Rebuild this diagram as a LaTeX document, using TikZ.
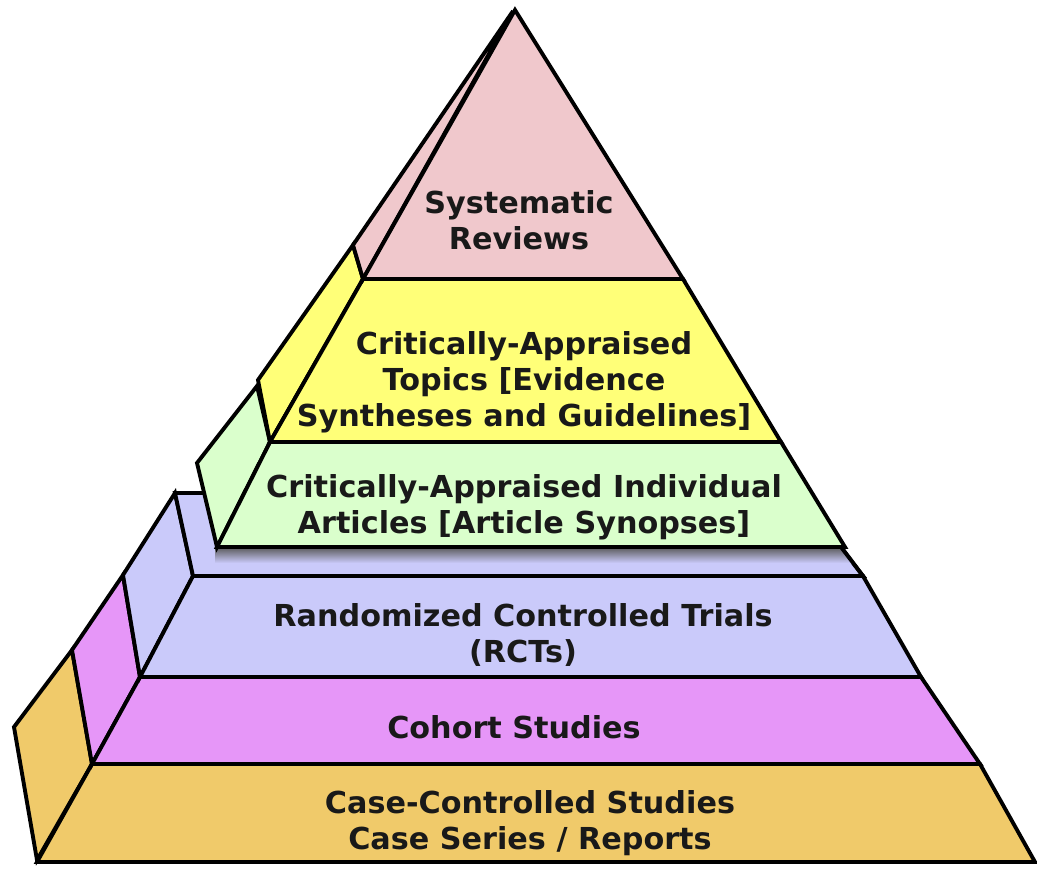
\documentclass[tikz,border=0pt]{standalone}
\usepackage{fontspec}
\setmainfont{DejaVu Sans}
\definecolor{revpink}{RGB}{240,200,204}
\definecolor{topyellow}{RGB}{255,255,120}
\definecolor{artgreen}{RGB}{218,255,204}
\definecolor{rctlav}{RGB}{202,202,250}
\definecolor{cohmag}{RGB}{230,150,248}
\definecolor{caseorange}{RGB}{240,202,106}
\begin{document}
\begin{tikzpicture}
	[x=0.01cm, y=-0.01cm, line width=1.1pt,
	levtext/.style={font=\fontsize{8.6}{10.3}\selectfont\bfseries, align=center, text=black!90}]
	\useasboundingbox (0,0) rectangle (1037,869);
	% bottom level
	\draw[fill=caseorange] (14,727) -- (72,650) -- (92,764) -- (37,860) -- cycle;
	\draw[fill=caseorange] (92,764) -- (980,764) -- (1035,862) -- (37,862) -- cycle;
	\draw[fill=cohmag] (72,650) -- (123,575) -- (140,677) -- (92,764) -- cycle;
	\draw[fill=cohmag] (140,677) -- (921,677) -- (980,764) -- (92,764) -- cycle;
	\draw[fill=rctlav] (123,575) -- (175,493) -- (193,576) -- (140,677) -- cycle;
	\draw[fill=rctlav] (175,493) -- (800,493) -- (863,576) -- (193,576) -- cycle;
	\begin{scope}
		\clip (175,493) -- (800,493) -- (863,576) -- (193,576) -- cycle;
		\shade[top color=black!65, bottom color=rctlav] (215,547) rectangle (860,563);
	\end{scope}
	\draw (175,493) -- (800,493) -- (863,576) -- (193,576);
	\draw[fill=rctlav] (193,576) -- (863,576) -- (921,677) -- (140,677) -- cycle;
	% upper levels
	\draw[fill=artgreen] (197,463) -- (257,386) -- (270,442) -- (217,547) -- cycle;
	\draw[fill=artgreen] (270,442) -- (781,442) -- (845,547) -- (217,547) -- cycle;
	\draw[fill=topyellow] (258,380) -- (353,245) -- (363,279) -- (270,442) -- cycle;
	\draw[fill=topyellow] (363,279) -- (683,279) -- (781,442) -- (270,442) -- cycle;
	\draw[fill=revpink] (513,11) -- (353,245) -- (363,279) -- cycle;
	\draw[fill=revpink] (515,10) -- (683,279) -- (363,279) -- cycle;
	% texts
	\node[levtext] (sysrev) at (519,220) {Systematic\\Reviews};
	\node[levtext] (topics) at (524,382) {Critically-Appraised\\Topics [Evidence\\Syntheses and Guidelines]};
	\node[levtext] (articles) at (524,507) {Critically-Appraised Individual\\Articles [Article Synopses]};
	\node[levtext] (rcts) at (523,635) {Randomized Controlled Trials\\(RCTs)};
	\node[levtext] (cohort) at (514,727) {Cohort Studies};
	\node[levtext] (cases) at (530,823) {Case-Controlled Studies\\Case Series / Reports};
\end{tikzpicture}
\end{document}
